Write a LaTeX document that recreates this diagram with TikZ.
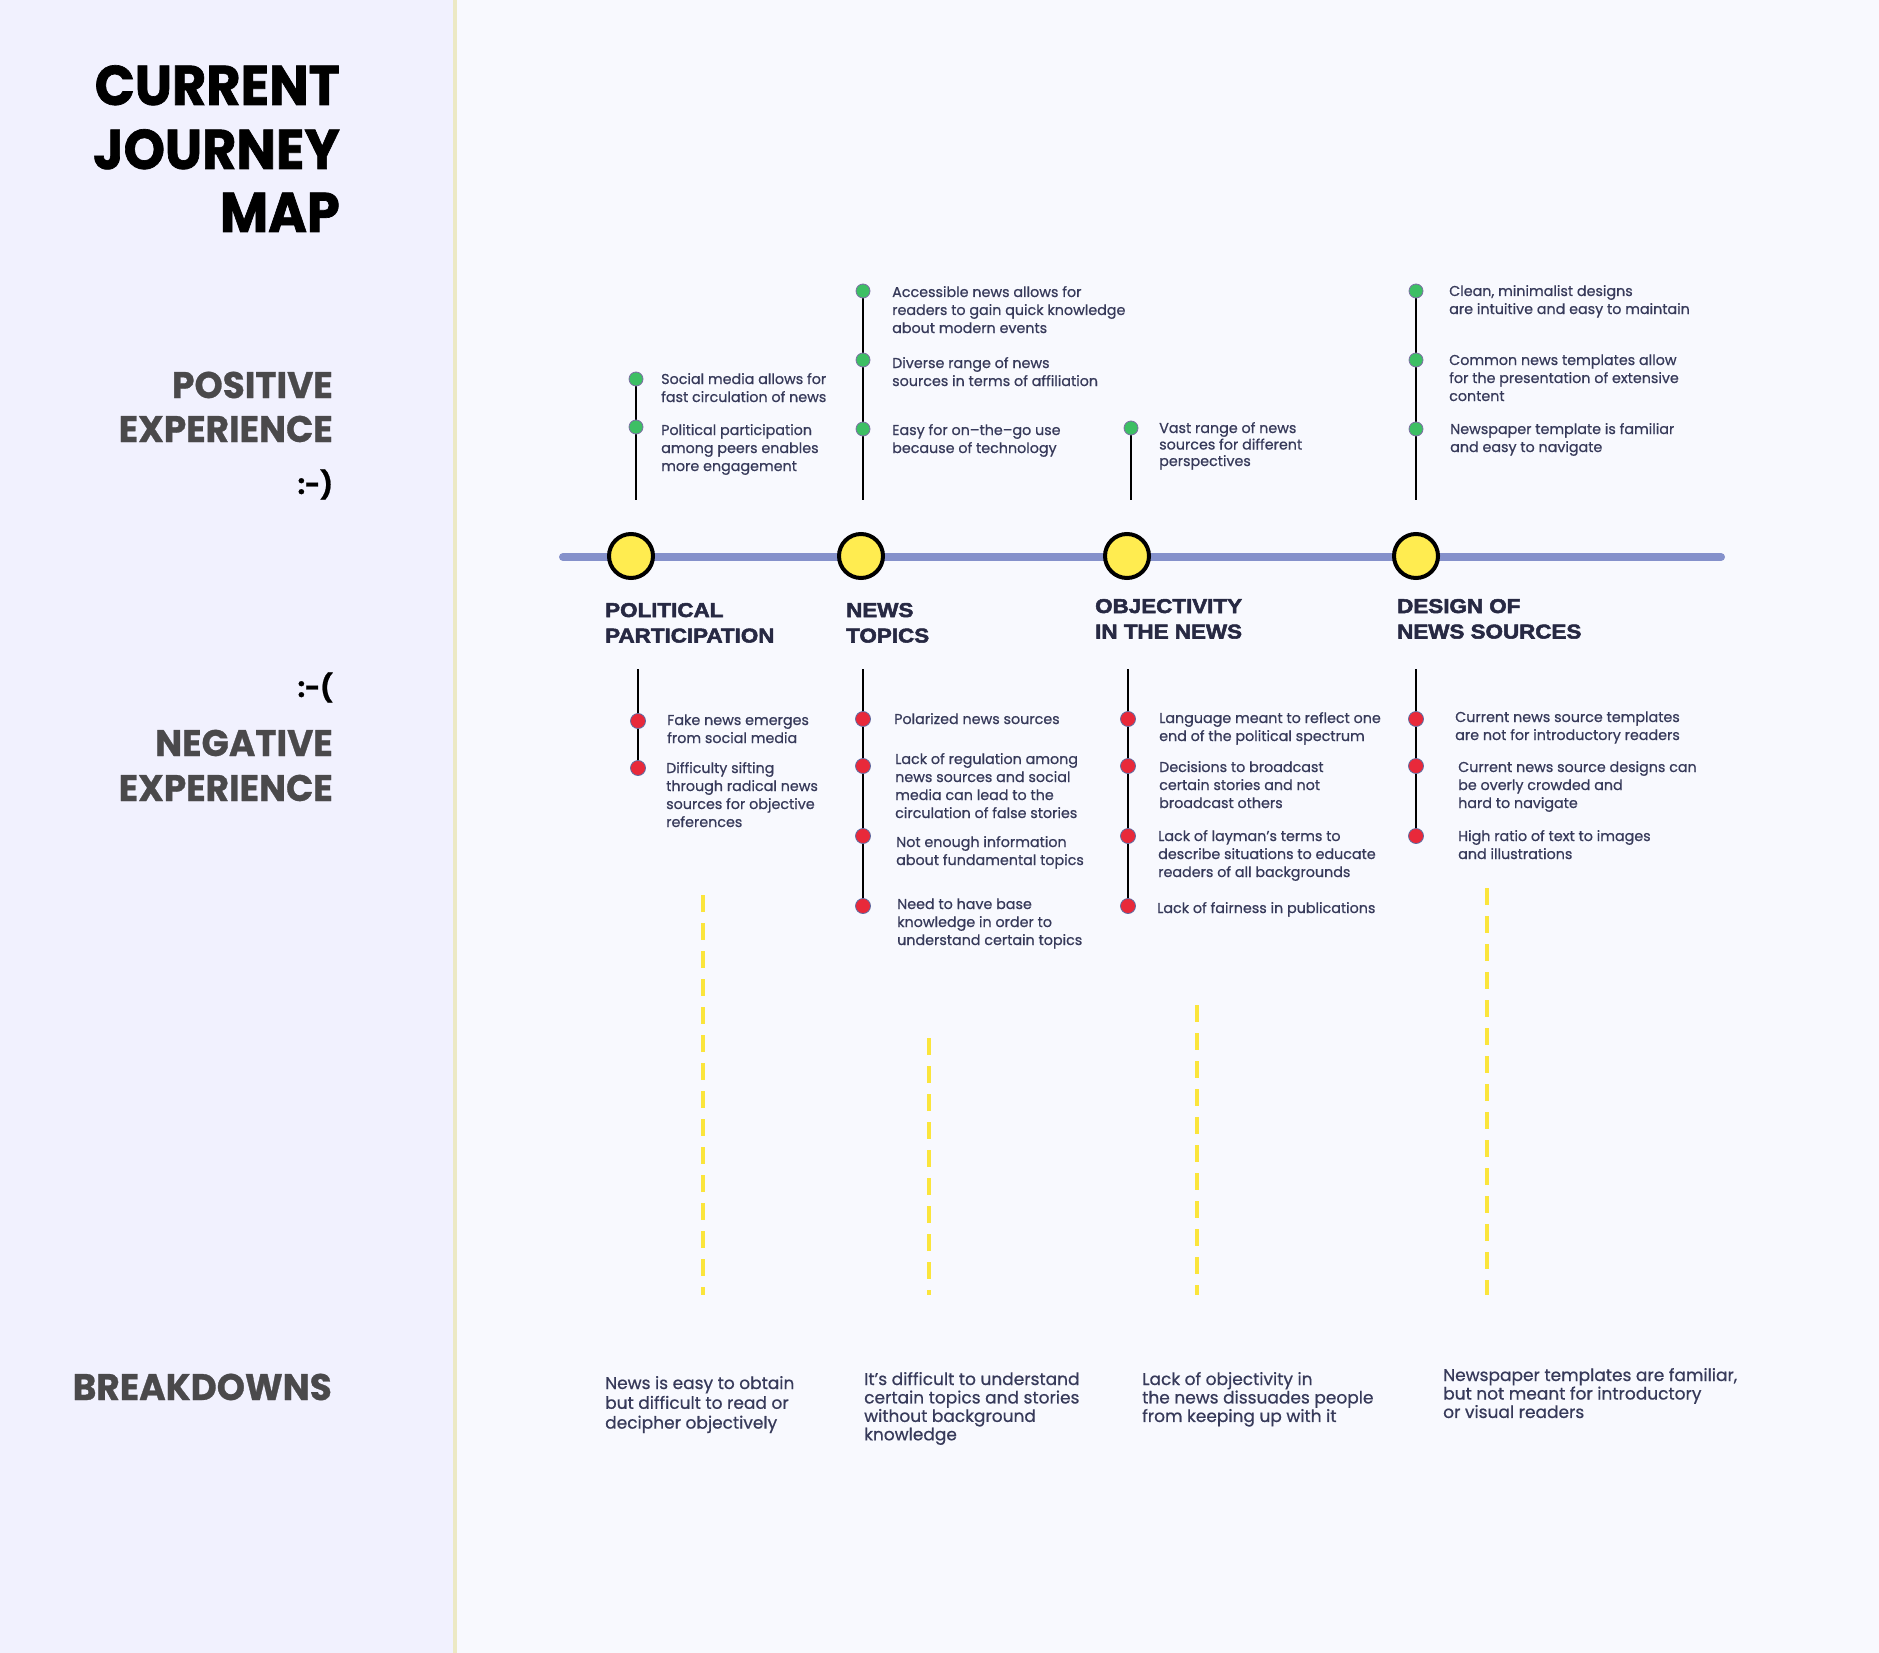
\documentclass[tikz,border=0pt]{standalone}
\usepackage{fontspec}
\setmainfont{Poppins}
\newfontfamily\bodyfont{Poppins}[FakeBold=0.7]
\newfontfamily\headfont{Poppins}[BoldFeatures={FakeBold=0.8,FakeStretch=0.97}]
\newfontfamily\titlefont{Poppins}[BoldFeatures={FakeBold=1.2,FakeStretch=0.94}]
\newfontfamily\stagefont{Liberation Sans}[BoldFeatures={FakeBold=2.6,FakeStretch=1.12}]

\definecolor{pagebg}{HTML}{F8F9FE}
\definecolor{panelbg}{HTML}{F1F1FE}
\definecolor{divider}{HTML}{ECE9C4}
\definecolor{timeline}{HTML}{8591CB}
\definecolor{milefill}{HTML}{FFEC50}
\definecolor{goodfill}{HTML}{3DBF64}
\definecolor{goodring}{HTML}{7E6EA6}
\definecolor{badfill}{HTML}{E8293A}
\definecolor{badring}{HTML}{5E6CA2}
\definecolor{dashcol}{HTML}{FBE53C}
\definecolor{bodytxt}{HTML}{373A5A}
\definecolor{stagetxt}{HTML}{272943}
\definecolor{headtxt}{HTML}{4A494B}

\pgfdeclarelayer{canvas}
\pgfdeclarelayer{bg}
\pgfsetlayers{canvas,bg,main}

% multi-line block whose baseline is the baseline of its first line
\newcommand\blk[1]{\begin{tabular}[t]{@{}l@{}}#1\end{tabular}}

\tikzset{
  txt/.style={anchor=base west, inner sep=0pt, text=bodytxt,
    font=\bodyfont\fontsize{14.3}{18}\selectfont},
  txttight/.style={txt, font=\bodyfont\fontsize{14.3}{16.5}\selectfont},
  brk/.style={txt, font=\bodyfont\fontsize{17}{18.4}\selectfont},
  brkwide/.style={txt, font=\bodyfont\fontsize{17}{19.8}\selectfont},
  stage/.style={anchor=base west, inner sep=0pt, text=stagetxt,
    font=\stagefont\bfseries\fontsize{20}{25.5}\selectfont},
  title/.style={anchor=base east, inner sep=0pt, text=black,
    font=\titlefont\bfseries\fontsize{56}{64}\selectfont},
  head/.style={anchor=base east, inner sep=0pt, text=headtxt,
    font=\headfont\bfseries\fontsize{37}{44}\selectfont},
  face/.style={anchor=base east, inner sep=0pt, text=black,
    font=\headfont\bfseries\fontsize{27}{32}\selectfont},
  gdot/.style={circle, inner sep=0pt, minimum size=14pt, fill=goodfill,
    draw=goodring, line width=0.8pt},
  rdot/.style={circle, inner sep=0pt, minimum size=15pt, fill=badfill,
    draw=badring, line width=0.8pt},
  milestone/.style={circle, inner sep=0pt, minimum size=44pt, fill=milefill,
    draw=black, line width=4pt},
  stem/.style={draw=black, line width=2.2pt},
  track/.style={draw=timeline, line width=8pt, line cap=round},
  gap/.style={draw=dashcol, line width=4pt, dash pattern=on 17pt off 11pt},
}

\begin{document}
\begin{tikzpicture}[x=1pt,y=-1pt]
\useasboundingbox (0,0) rectangle (1879,1653);

% page and side panel
\begin{pgfonlayer}{canvas}
  \fill[pagebg] (0,0) rectangle (1879,1653);
  \fill[panelbg] (0,0) rectangle (453,1653);
  \draw[divider, line width=4pt] (455,0) -- (455,1653);
\end{pgfonlayer}

% side panel headings
\node[title] (ttl1) at (340,105) {CURRENT};
\node[title] (ttl2) at (340,169) {JOURNEY};
\node[title] (ttl3) at (340,232) {MAP};

\node[head] (pos1) at (333,398) {POSITIVE};
\node[head] (pos2) at (333,442) {EXPERIENCE};
\node[face] (smile) at (333,494) {:-)};

\node[face] (frown) at (333,697) {:-(};
\node[head] (neg1) at (333,756) {NEGATIVE};
\node[head] (neg2) at (333,801) {EXPERIENCE};

\node[head] (brkhead) at (332,1400) {BREAKDOWNS};

% timeline with its four stages
\coordinate (tl-start) at (563,557);
\coordinate (tl-end) at (1721,557);
\node[milestone] (m1) at (631,556) {};
\node[milestone] (m2) at (861,556) {};
\node[milestone] (m3) at (1127,556) {};
\node[milestone] (m4) at (1416,556) {};

\node[stage] (s1) at (605,617) {\blk{POLITICAL\\PARTICIPATION}};
\node[stage] (s2) at (846,617) {\blk{NEWS\\TOPICS}};
\node[stage] (s3) at (1095,613) {\blk{OBJECTIVITY\\IN THE NEWS}};
\node[stage] (s4) at (1397,613) {\blk{DESIGN OF\\NEWS SOURCES}};

% positive experiences
\node[gdot] (pa1) at (636,379) {};
\node[gdot] (pa2) at (636,427) {};
\coordinate (pa-end) at (636,500);
\node[txt] (tpa1) at (661,384) {\blk{Social media allows for\\fast circulation of news}};
\node[txt] (tpa2) at (661,435) {\blk{Political participation\\among peers enables\\more engagement}};

\node[gdot] (pb1) at (863,291) {};
\node[gdot] (pb2) at (863,360) {};
\node[gdot] (pb3) at (863,429) {};
\coordinate (pb-end) at (863,500);
\node[txt] (tpb1) at (892,297) {\blk{Accessible news allows for\\readers to gain quick knowledge\\about modern events}};
\node[txt] (tpb2) at (892,368) {\blk{Diverse range of news\\sources in terms of affiliation}};
\node[txt] (tpb3) at (892,435) {\blk{Easy for on–the–go use\\because of technology}};

\node[gdot] (pc1) at (1131,428) {};
\coordinate (pc-end) at (1131,500);
\node[txttight] (tpc1) at (1159,433) {\blk{Vast range of news\\sources for different\\perspectives}};

\node[gdot] (pd1) at (1416,291) {};
\node[gdot] (pd2) at (1416,360) {};
\node[gdot] (pd3) at (1416,429) {};
\coordinate (pd-end) at (1416,500);
\node[txt] (tpd1) at (1449,296) {\blk{Clean, minimalist designs\\are intuitive and easy to maintain}};
\node[txt] (tpd2) at (1449,365) {\blk{Common news templates allow\\for the presentation of extensive\\content}};
\node[txt] (tpd3) at (1450,434) {\blk{Newspaper template is familiar\\and easy to navigate}};

% negative experiences
\coordinate (na-start) at (638,669);
\node[rdot] (na1) at (638,721) {};
\node[rdot] (na2) at (638,768) {};
\node[txt] (tna1) at (667,725) {\blk{Fake news emerges\\from social media}};
\node[txt] (tna2) at (666,773) {\blk{Difficulty sifting\\through radical news\\sources for objective\\references}};

\coordinate (nb-start) at (863,669);
\node[rdot] (nb1) at (863,719) {};
\node[rdot] (nb2) at (863,766) {};
\node[rdot] (nb3) at (863,836) {};
\node[rdot] (nb4) at (863,906) {};
\node[txt] (tnb1) at (894,724) {\blk{Polarized news sources}};
\node[txt] (tnb2) at (895,764) {\blk{Lack of regulation among\\news sources and social\\media can lead to the\\circulation of false stories}};
\node[txt] (tnb3) at (896,847) {\blk{Not enough information\\about fundamental topics}};
\node[txt] (tnb4) at (897,909) {\blk{Need to have base\\knowledge in order to\\understand certain topics}};

\coordinate (nc-start) at (1128,669);
\node[rdot] (nc1) at (1128,719) {};
\node[rdot] (nc2) at (1128,766) {};
\node[rdot] (nc3) at (1128,836) {};
\node[rdot] (nc4) at (1128,906) {};
\node[txt] (tnc1) at (1159,723) {\blk{Language meant to reflect one\\end of the political spectrum}};
\node[txt] (tnc2) at (1159,772) {\blk{Decisions to broadcast\\certain stories and not\\broadcast others}};
\node[txt] (tnc3) at (1158,841) {\blk{Lack of layman’s terms to\\describe situations to educate\\readers of all backgrounds}};
\node[txt] (tnc4) at (1157,913) {\blk{Lack of fairness in publications}};

\coordinate (nd-start) at (1416,669);
\node[rdot] (nd1) at (1416,719) {};
\node[rdot] (nd2) at (1416,766) {};
\node[rdot] (nd3) at (1416,836) {};
\node[txt] (tnd1) at (1455,722) {\blk{Current news source templates\\are not for introductory readers}};
\node[txt] (tnd2) at (1458,772) {\blk{Current news source designs can\\be overly crowded and\\hard to navigate}};
\node[txt] (tnd3) at (1458,841) {\blk{High ratio of text to images\\and illustrations}};

% breakdown gaps
\coordinate (ga-top) at (703,895);
\coordinate (ga-bot) at (703,1295);
\coordinate (gb-top) at (929,1038);
\coordinate (gb-bot) at (929,1295);
\coordinate (gc-top) at (1197,1005);
\coordinate (gc-bot) at (1197,1295);
\coordinate (gd-top) at (1487,888);
\coordinate (gd-bot) at (1487,1295);
\draw[gap] (ga-top) -- (ga-bot);
\draw[gap] (gb-top) -- (gb-bot);
\draw[gap] (gc-top) -- (gc-bot);
\draw[gap] (gd-top) -- (gd-bot);

% breakdown statements
\node[brkwide] (ba) at (605,1389) {\blk{News is easy to obtain\\but difficult to read or\\decipher objectively}};
\node[brk] (bb) at (864,1385) {\blk{It’s difficult to understand\\certain topics and stories\\without background\\knowledge}};
\node[brk] (bc) at (1142,1385) {\blk{Lack of objectivity in\\the news dissuades people\\from keeping up with it}};
\node[brk] (bd) at (1443,1381) {\blk{Newspaper templates are familiar,\\but not meant for introductory\\or visual readers}};

% track and stems sit beneath the markers
\begin{pgfonlayer}{bg}
  \draw[track] (tl-start) -- (tl-end);
  \draw[stem] (pa1.center) -- (pa-end);
  \draw[stem] (pb1.center) -- (pb-end);
  \draw[stem] (pc1.center) -- (pc-end);
  \draw[stem] (pd1.center) -- (pd-end);
  \draw[stem] (na-start) -- (na2.center);
  \draw[stem] (nb-start) -- (nb4.center);
  \draw[stem] (nc-start) -- (nc4.center);
  \draw[stem] (nd-start) -- (nd3.center);
\end{pgfonlayer}
\end{tikzpicture}
\end{document}
